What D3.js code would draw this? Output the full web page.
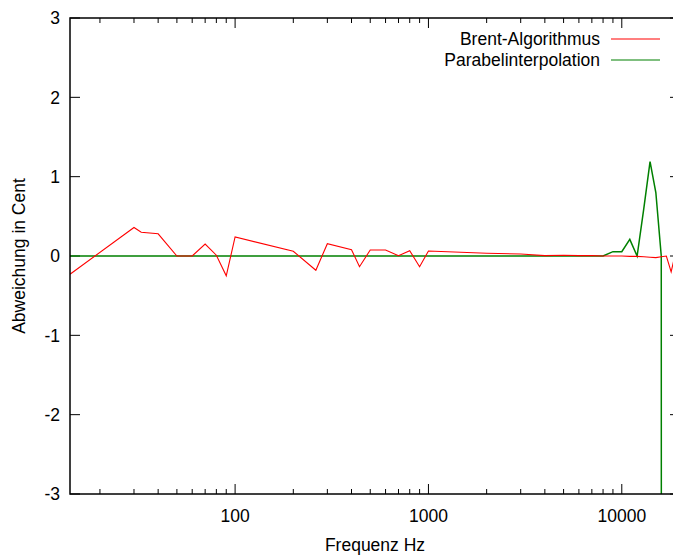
<!DOCTYPE html>
<html>
<head>
<meta charset="utf-8">
<script src="https://cdn.jsdelivr.net/npm/d3@7"></script>
<style>
  body { margin: 0; background: #fff; overflow: hidden; }
  text { font-family: "Liberation Sans", Arial, sans-serif; fill: #000; }
</style>
</head>
<body>
<div id="chart"></div>
<script>
// Frequenzen (Hz) und Abweichungen (Cent)
const brentFreq = [14, 30, 32.7, 40, 50, 60, 70, 80, 90, 100, 200, 261.6, 300, 400, 440, 500, 600, 700, 800, 900,
  1000, 2000, 3000, 4000, 5000, 6000, 7000, 8000, 9000, 10000, 11000, 12000, 13000, 14000, 15000, 16000, 17000, 18000, 19000];
const brentCent = [-0.23, 0.36, 0.30, 0.28, 0.0, 0.0, 0.15, 0.01, -0.25, 0.24, 0.06, -0.18, 0.155, 0.08, -0.135, 0.076, 0.076, 0.004, 0.067, -0.135,
  0.063, 0.035, 0.025, 0.005, 0.01, 0.005, 0.005, 0.0, 0.0, 0.0, -0.005, -0.005, -0.01, -0.015, -0.02, -0.01, 0.0, -0.2, 0.05];

const paraFreq = [14, 30, 32.7, 40, 50, 60, 70, 80, 90, 100, 200, 261.6, 300, 400, 440, 500, 600, 700, 800, 900,
  1000, 2000, 3000, 4000, 5000, 6000, 7000, 8000, 9000, 10000, 11000, 12000, 13000, 14000, 15000, 16000, 16500];
const paraCent = [0, 0, 0, 0, 0, 0, 0, 0, 0, 0, 0, 0, 0, 0, 0, 0, 0, 0, 0, 0,
  0, 0, 0, 0, 0, 0, 0, 0, 0.055, 0.055, 0.21, 0, 0.6, 1.19, 0.8, 0.0, -100];

const xTicks = [100, 1000, 10000];
const yTicks = [-3, -2, -1, 0, 1, 2, 3];
const seriesNames = ["Brent-Algorithmus", "Parabelinterpolation"];
const seriesColors = ["#ff0000", "#008000"];

const margin = { top: 18, right: -7, bottom: 61, left: 70 };
const W = 673, H = 555;
const width = W - margin.left - margin.right;
const height = H - margin.top - margin.bottom;

const svg = d3.select("#chart").append("svg")
  .attr("width", W)
  .attr("height", H);

const g = svg.append("g")
  .attr("transform", `translate(${margin.left},${margin.top})`);

const x = d3.scaleLog().domain([14, 20000]).range([0, width]);
const y = d3.scaleLinear().domain([-3, 3]).range([height, 0]);

g.append("clipPath").attr("id", "clip")
  .append("rect").attr("width", width).attr("height", height);

// minor ticks 2..9 per decade
const minor = [];
for (let d = 10; d <= 10000; d *= 10) {
  for (let k = 2; k <= 9; k++) {
    const v = d * k;
    if (v > 14 && v < 20000) minor.push(v);
  }
}

const ticks = g.append("g").attr("stroke", "#000").attr("stroke-width", 1);
minor.forEach(v => {
  ticks.append("line").attr("x1", x(v)).attr("x2", x(v)).attr("y1", height).attr("y2", height - 5);
  ticks.append("line").attr("x1", x(v)).attr("x2", x(v)).attr("y1", 0).attr("y2", 5);
});
xTicks.forEach(v => {
  ticks.append("line").attr("x1", x(v)).attr("x2", x(v)).attr("y1", height).attr("y2", height - 10);
  ticks.append("line").attr("x1", x(v)).attr("x2", x(v)).attr("y1", 0).attr("y2", 10);
});
yTicks.forEach(v => {
  ticks.append("line").attr("x1", 0).attr("x2", 10).attr("y1", y(v)).attr("y2", y(v));
  ticks.append("line").attr("x1", width).attr("x2", width - 10).attr("y1", y(v)).attr("y2", y(v));
});

// tick labels
g.selectAll(".xlab").data(xTicks).join("text")
  .attr("x", d => x(d))
  .attr("y", height + 28)
  .attr("text-anchor", "middle")
  .style("font-size", "17.5px")
  .text(d => d);

g.selectAll(".ylab").data(yTicks).join("text")
  .attr("x", -10)
  .attr("y", d => y(d))
  .attr("dy", "0.36em")
  .attr("text-anchor", "end")
  .style("font-size", "17.5px")
  .text(d => d);

// lines
const line = d3.line().x(d => x(d[0])).y(d => y(d[1]));
const plot = g.append("g").attr("clip-path", "url(#clip)");

plot.append("path")
  .datum(paraFreq.map((f, i) => [f, paraCent[i]]))
  .attr("fill", "none")
  .attr("stroke", seriesColors[1])
  .attr("stroke-width", 1.5)
  .attr("d", line);

plot.append("path")
  .datum(brentFreq.map((f, i) => [f, brentCent[i]]))
  .attr("fill", "none")
  .attr("stroke", seriesColors[0])
  .attr("stroke-width", 1.1)
  .attr("d", line);

// border
g.append("rect")
  .attr("width", width).attr("height", height)
  .attr("fill", "none").attr("stroke", "#000").attr("stroke-width", 1.5);

// axis titles
svg.append("text")
  .attr("x", 375).attr("y", 551)
  .attr("text-anchor", "middle")
  .style("font-size", "17.5px")
  .text("Frequenz Hz");

svg.append("text")
  .attr("transform", "translate(25,256) rotate(-90)")
  .attr("text-anchor", "middle")
  .style("font-size", "17.5px")
  .text("Abweichung in Cent");

// legend
seriesNames.forEach((name, i) => {
  const ly = 39 + i * 21;
  svg.append("text")
    .attr("x", 600).attr("y", ly + 6)
    .attr("text-anchor", "end")
    .style("font-size", "17.5px")
    .text(name);
  svg.append("line")
    .attr("x1", 611).attr("x2", 660)
    .attr("y1", ly).attr("y2", ly)
    .attr("stroke", seriesColors[i])
    .attr("stroke-width", 1.1);
});
</script>
</body>
</html>
